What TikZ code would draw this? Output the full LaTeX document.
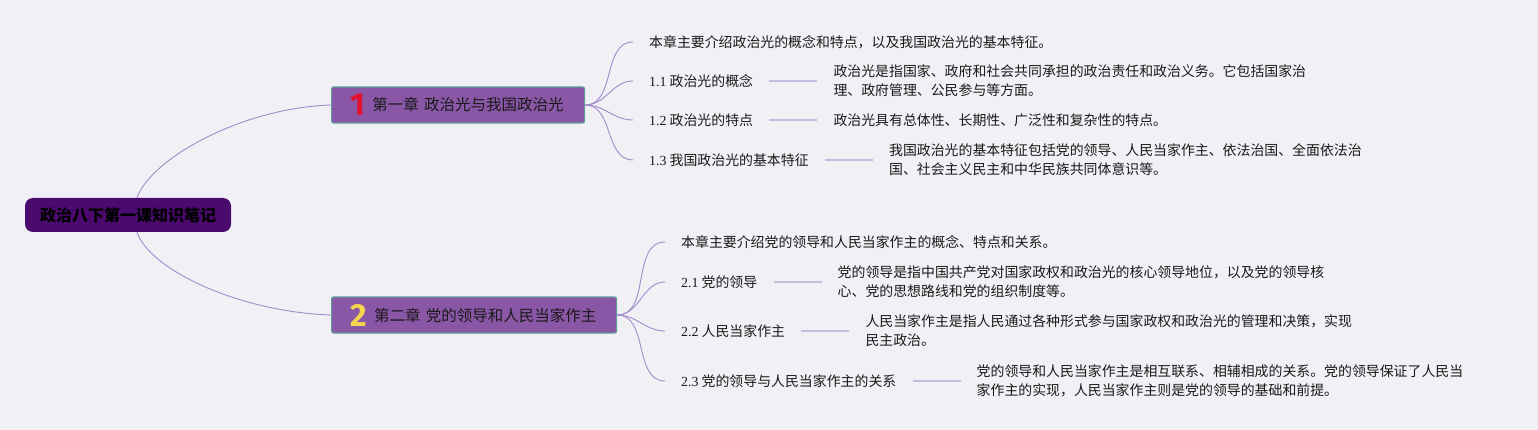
\documentclass[tikz,border=0pt]{standalone}
\usepackage{fontspec}
\setmainfont{Noto Sans CJK SC}
\newfontfamily\lat{Liberation Serif}
\newfontfamily\numfont{Fira Sans}
\usetikzlibrary{positioning}
\definecolor{bgc}{HTML}{F1F0F5}
\definecolor{rootc}{HTML}{4A0A6E}
\definecolor{chc}{HTML}{8A56A6}
\definecolor{chb}{HTML}{5E9C9A}
\definecolor{connc}{HTML}{A08CCB}
\definecolor{tiec}{HTML}{C6BADD}
\definecolor{txt}{HTML}{1A1A1A}
\definecolor{onered}{HTML}{E3122F}
\definecolor{twoyel}{HTML}{F3D54E}
\newcommand{\badge}[2]{\raisebox{-5pt}{\numfont\bfseries\fontsize{32}{32}\selectfont\color{#1}#2}\hspace{7pt}}
\begin{document}
\begin{tikzpicture}[x=1pt,y=-1pt,
  rootbox/.style={fill=rootc, rounded corners=8pt, minimum width=206pt, minimum height=34pt, inner sep=0pt, font=\fontsize{16}{18}\selectfont\bfseries, text=black},
  chbox/.style={draw=chb, line width=1.2pt, fill=chc, rounded corners=2pt, minimum height=36pt, inner xsep=19pt, inner ysep=0pt, align=left, font=\fontsize{15.5}{18}\selectfont, text=txt, anchor=west},
  lbl/.style={inner xsep=16pt, inner ysep=2pt, anchor=west, font=\fontsize{13.9}{19}\selectfont, text=txt},
  desc/.style={inner xsep=16pt, inner ysep=2pt, align=left, font=\fontsize{13.9}{19}\selectfont, text=txt},
  conn/.style={draw=connc, line width=0.9pt},
  tieline/.style={draw=tiec, line width=2pt},
]
\fill[bgc] (0,0) rectangle (1538,430);
\useasboundingbox (0,0) rectangle (1538,430);

% root
\node[rootbox] (root) at (128,215) {政治八下第一课知识笔记};

% chapters
\node[chbox, text width=215pt] (c1) at (331,105) {\mbox{\badge{onered}{1}第一章 政治光与我国政治光}};
\node[chbox, text width=247pt] (c2) at (331,315) {\mbox{\badge{twoyel}{2}第二章 党的领导和人民当家作主}};

\draw[conn] ([xshift=9pt]root.north) .. controls +(13,-38) and +(-91,3) .. (c1.west);
\draw[conn] ([xshift=9pt]root.south) .. controls +(13,38) and +(-91,-3) .. (c2.west);

% chapter 1 children
\node[lbl] (l10) at (633,42) {本章主要介绍政治光的概念和特点，以及我国政治光的基本特征。};
\node[lbl] (l11) at (633,81) {{\lat 1.1} 政治光的概念};
\node[lbl] (l12) at (633,120) {{\lat 1.2} 政治光的特点};
\node[lbl] (l13) at (633,160) {{\lat 1.3} 我国政治光的基本特征};
\node[desc, right=48pt of l11] (d11) {政治光是指国家、政府和社会共同承担的政治责任和政治义务。它包括国家治\\理、政府管理、公民参与等方面。};
\node[desc, right=48pt of l12] (d12) {政治光具有总体性、长期性、广泛性和复杂性的特点。};
\node[desc, right=48pt of l13] (d13) {我国政治光的基本特征包括党的领导、人民当家作主、依法治国、全面依法治\\国、社会主义民主和中华民族共同体意识等。};

\foreach \n in {l10,l11,l12,l13} \draw[conn] (c1.east) to[out=0,in=180] (\n.west);
\draw[tieline] (l11.east) -- (d11.west);
\draw[tieline] (l12.east) -- (d12.west);
\draw[tieline] (l13.east) -- (d13.west);

% chapter 2 children
\node[lbl] (l20) at (665,242) {本章主要介绍党的领导和人民当家作主的概念、特点和关系。};
\node[lbl] (l21) at (665,282) {{\lat 2.1} 党的领导};
\node[lbl] (l22) at (665,331) {{\lat 2.2} 人民当家作主};
\node[lbl] (l23) at (665,381) {{\lat 2.3} 党的领导与人民当家作主的关系};
\node[desc, right=48pt of l21] (d21) {党的领导是指中国共产党对国家政权和政治光的核心领导地位，以及党的领导核\\心、党的思想路线和党的组织制度等。};
\node[desc, right=48pt of l22] (d22) {人民当家作主是指人民通过各种形式参与国家政权和政治光的管理和决策，实现\\民主政治。};
\node[desc, right=48pt of l23] (d23) {党的领导和人民当家作主是相互联系、相辅相成的关系。党的领导保证了人民当\\家作主的实现，人民当家作主则是党的领导的基础和前提。};

\foreach \n in {l20,l21,l22,l23} \draw[conn] (c2.east) to[out=0,in=180] (\n.west);
\draw[tieline] (l21.east) -- (d21.west);
\draw[tieline] (l22.east) -- (d22.west);
\draw[tieline] (l23.east) -- (d23.west);
\end{tikzpicture}
\end{document}
